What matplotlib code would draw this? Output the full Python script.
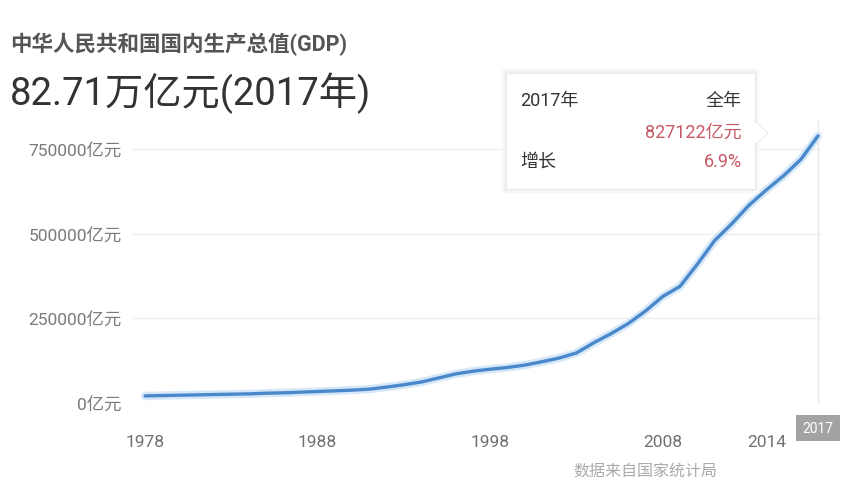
import matplotlib
matplotlib.use("Agg")
import matplotlib.pyplot as plt
from matplotlib.patches import FancyBboxPatch, Polygon

plt.rcParams['font.family'] = ['Roboto', 'Noto Sans CJK SC', 'DejaVu Sans']

# ---- data (亿元) ----
years = list(range(1978, 2018))
gdp = [21000, 22000, 23000, 24000, 25000, 26000, 27000, 29000, 30000, 32000,
       34000, 36000, 38000, 41000, 47000, 54000, 62000, 74000, 86000, 94000,
       100000, 105000, 112000, 122000, 133000, 148000, 178000, 205000, 235000, 272000,
       315000, 345000, 410000, 480000, 530000, 585000, 630000, 672000, 720000, 790000]
xticks = [1978, 1988, 1998, 2008, 2014]
yticks = [0, 250000, 500000, 750000]
ytick_labels = ["0亿元", "250000亿元", "500000亿元", "750000亿元"]
title = "中华人民共和国国内生产总值(GDP)"
headline = "82.71万亿元(2017年)"
tip_year = "2017年"
tip_period = "全年"
tip_value = "827122亿元"
tip_growth_label = "增长"
tip_growth = "6.9%"
source = "数据来自国家统计局"

W, H = 842, 481
fig = plt.figure(figsize=(W / 100, H / 100), dpi=100)
fig.patch.set_facecolor("white")

def fx(px):
    return px / W

def fy(py):
    return 1 - py / H

ax = fig.add_axes([fx(133), fy(404), fx(822) - fx(133), (404 - 122) / H])
ax.set_facecolor("none")
ax.set_xlim(1977.3, 2017.23)
ax.set_ylim(0, 834000)
for s in ax.spines.values():
    s.set_visible(False)

ax.set_yticks(yticks)
ax.set_yticklabels(ytick_labels)
ax.set_xticks(xticks)
ax.set_xticklabels([str(y) for y in xticks])
ax.tick_params(axis="y", length=0, pad=8, labelsize=12.5, labelcolor="#7a7a7a")
ax.tick_params(axis="x", length=0, pad=22, labelsize=12.5, labelcolor="#707070")
ax.grid(axis="y", color="#efefef", linewidth=1)
ax.set_axisbelow(True)

# axis pointer at the last year
ax.axvline(years[-1], color="#e6e6e6", linewidth=1, zorder=1)

# line with soft halo
ax.plot(years, gdp, color="#d6e8f8", linewidth=6, solid_capstyle="round", zorder=2)
ax.plot(years, gdp, color="#4a88cc", linewidth=2.4, solid_capstyle="round", zorder=3)

# axis pointer label box
ax.annotate(str(years[-1]), xy=(years[-1], 0), xycoords="data",
            xytext=(0, -18), textcoords="offset points",
            ha="center", va="center", fontsize=10, color="white",
            bbox=dict(boxstyle="square,pad=0.45", fc="#a3a3a3", ec="none"),
            annotation_clip=False, zorder=5)

# titles
fig.text(fx(10), fy(44), title, fontsize=15.5, fontweight="bold", color="#555555",
         ha="left", va="center")
fig.text(fx(10), fy(93), headline, fontsize=27.5, color="#333333",
         ha="left", va="center")

# tooltip
for pad, col in [(4, "#f8f8f8"), (2, "#f1f1f1")]:
    sh = FancyBboxPatch((fx(506 - pad), fy(190 + pad)),
                        fx(755 + pad) - fx(506 - pad), (190 - 74 + 2 * pad) / H,
                        boxstyle="square,pad=0", transform=fig.transFigure,
                        fc=col, ec="none", zorder=6)
    fig.patches.append(sh)
box = FancyBboxPatch((fx(506), fy(190)), fx(755) - fx(506), (190 - 74) / H,
                     boxstyle="square,pad=0", transform=fig.transFigure,
                     fc="white", ec="#ebebeb", lw=0.8, zorder=7)
fig.patches.append(box)
tri = Polygon([[fx(755), fy(122)], [fx(768), fy(134)], [fx(755), fy(146)]],
              closed=True, transform=fig.transFigure, fc="white", ec="#ebebeb",
              lw=0.8, zorder=7)
fig.patches.append(tri)
tri2 = Polygon([[fx(754), fy(123)], [fx(766), fy(134)], [fx(754), fy(145)]],
               closed=True, transform=fig.transFigure, fc="white", ec="none", zorder=8)
fig.patches.append(tri2)

fig.text(fx(520), fy(101), tip_year, fontsize=13, color="#333333", ha="left",
         va="center", zorder=9)
fig.text(fx(742), fy(101), tip_period, fontsize=13, color="#333333", ha="right",
         va="center", zorder=9)
fig.text(fx(742), fy(133), tip_value, fontsize=13, color="#c65a66", ha="right",
         va="center", zorder=9)
fig.text(fx(520), fy(162), tip_growth_label, fontsize=13, color="#333333", ha="left",
         va="center", zorder=9)
fig.text(fx(742), fy(162), tip_growth, fontsize=13, color="#c65a66", ha="right",
         va="center", zorder=9)

# source
fig.text(fx(573), fy(472), source, fontsize=11.5, color="#aaaaaa", ha="left",
         va="center")

fig.savefig("out.png", dpi=100, facecolor="white")
